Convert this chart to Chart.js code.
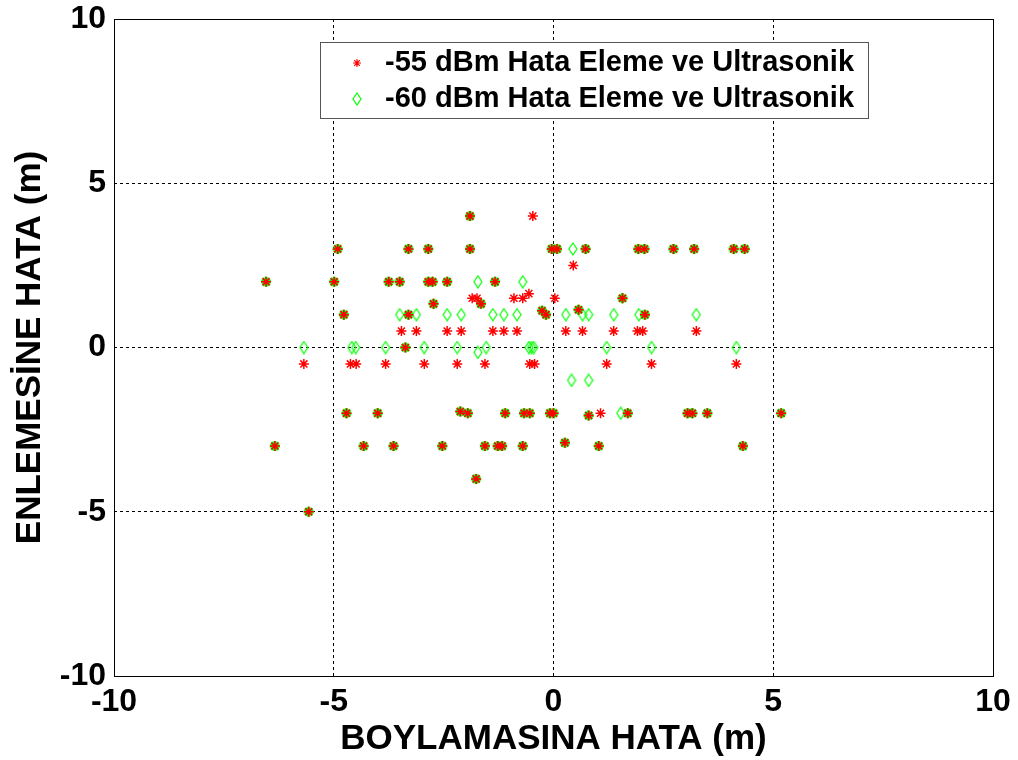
<!DOCTYPE html>
<html>
<head>
<meta charset="utf-8">
<script src="https://cdn.jsdelivr.net/npm/chart.js@4.4.1/dist/chart.umd.min.js"></script>
<style>
  body { margin: 0; background: #fff; }
  canvas { display: block; }
</style>
</head>
<body>
<canvas id="errChart" width="1018" height="760"></canvas>
<script>
// points where both runs landed on the same spot
const bothX = [-1.90,
  -4.91, -3.30, -2.85, -1.90, -0.04, 0.08, 0.73, 1.93, 2.07, 2.73, 3.20, 4.10, 4.35,
  -6.54, -4.99, -3.75, -3.50, -2.85, -2.75, -2.42, -1.33,
  -2.73, -1.65, 1.57, -0.26, 0.57,
  -4.77, -3.30, -0.17, 2.08,
  -3.37,
  -4.71, -4.00, -2.12, -1.95, -1.10, -0.67, -0.54, -0.08, 0.00, 0.80, 1.69, 3.05, 3.16, 3.50, 5.18,
  0.26,
  -6.34, -4.32, -3.64, -2.53, -1.56, -1.27, -1.17, -0.70, 1.03, 4.31,
  -1.76, -5.57];
const bothY = [4,
  3, 3, 3, 3, 3, 3, 3, 3, 3, 3, 3, 3, 3,
  2, 2, 2, 2, 2, 2, 2, 2,
  1.33, 1.33, 1.5, 1.12, 1.15,
  1, 1, 1, 1,
  0,
  -2, -2, -1.95, -2, -2, -2, -2, -2, -2, -2.07, -2, -2, -2, -2, -2,
  -2.9,
  -3, -3, -3, -3, -3, -3, -3, -3, -3, -3,
  -4, -5];

// -55 dBm only
const only55X = [-0.47, 0.45,
  -1.85, -1.74, -0.90, -0.70, -0.56, 0.03,
  1.07,
  -3.46, -3.12, -2.42, -2.10, -1.38, -1.13, -0.83, 0.28, 0.66, 1.37, 1.91, 2.03, 3.25,
  -5.68, -4.62, -4.49, -3.82, -2.94, -2.19, -1.56, -0.54, -0.43, 1.21, 2.23, 4.16];
const only55Y = [4, 2.5,
  1.5, 1.5, 1.5, 1.5, 1.64, 1.5,
  -2,
  0.5, 0.5, 0.5, 0.5, 0.5, 0.5, 0.5, 0.5, 0.5, 0.5, 0.5, 0.5, 0.5,
  -0.5, -0.5, -0.5, -0.5, -0.5, -0.5, -0.5, -0.5, -0.5, -0.5, -0.5, -0.5];

// -60 dBm only
const only60X = [0.44, -1.72, -0.70,
  -3.50, -3.12, -2.42, -2.10, -1.38, -1.13, -0.83, 0.28, 0.66, 0.80, 1.37, 1.94, 3.25,
  -5.68, -4.59, -4.50, -3.82, -2.94, -2.19, -1.53, -0.56, -0.50, -0.45, 1.21, 2.23, 4.16,
  -1.72, 0.41, 0.80, 1.53];
const only60Y = [3, 2, 2,
  1, 1, 1, 1, 1, 1, 1, 1, 1, 1, 1, 1, 1,
  0, 0, 0, 0, 0, 0, 0, 0, 0, 0, 0, 0, 0,
  -0.15, -1, -1, -2];

const seriesNames = ["-55 dBm Hata Eleme ve Ultrasonik", "-60 dBm Hata Eleme ve Ultrasonik"];
const xTicks = [-10, -5, 0, 5, 10];
const yTicks = [-10, -5, 0, 5, 10];

const RED = "#ff0000";
const GREEN = "#00ff00";
const FONT = "'Liberation Sans', Arial, sans-serif";

function pts(xs, ys) {
  return xs.map((x, i) => ({ x: x, y: ys[i] }));
}

// tall matlab-style diamond
function makeDiamond(w, h, color) {
  const c = document.createElement("canvas");
  c.width = w + 2;
  c.height = h + 2;
  const g = c.getContext("2d");
  g.strokeStyle = color;
  g.lineWidth = 1.2;
  g.beginPath();
  g.moveTo(c.width / 2, 1);
  g.lineTo(c.width - 1, c.height / 2);
  g.lineTo(c.width / 2, c.height - 1);
  g.lineTo(1, c.height / 2);
  g.closePath();
  g.stroke();
  return c;
}
const diamond = makeDiamond(8, 12, GREEN);

const frameAndLegend = {
  id: "frameAndLegend",
  afterDatasetsDraw(chart) {
    const { ctx, chartArea: a } = chart;
    ctx.save();
    ctx.strokeStyle = "#000";
    ctx.lineWidth = 1;
    ctx.setLineDash([]);
    ctx.strokeRect(Math.round(a.left) + 0.5, Math.round(a.top) + 0.5,
      Math.round(a.right - a.left), Math.round(a.bottom - a.top));

    // legend box
    const bx = 320, by = 42, bw = 548, bh = 76;
    ctx.fillStyle = "#fff";
    ctx.fillRect(bx, by, bw, bh);
    ctx.strokeStyle = "#555";
    ctx.strokeRect(bx + 0.5, by + 0.5, bw, bh);

    ctx.font = "bold 29px " + FONT;
    ctx.fillStyle = "#000";
    ctx.textBaseline = "middle";
    ctx.textAlign = "left";
    const rows = [by + 21, by + 57];
    ctx.fillText(seriesNames[0], 385, rows[0]);
    ctx.fillText(seriesNames[1], 385, rows[1]);

    // star marker
    const sx = 357, sy = rows[0], r = 4;
    ctx.strokeStyle = RED;
    ctx.lineWidth = 1.2;
    ctx.beginPath();
    for (let k = 0; k < 4; k++) {
      const ang = k * Math.PI / 4;
      ctx.moveTo(sx - r * Math.cos(ang), sy - r * Math.sin(ang));
      ctx.lineTo(sx + r * Math.cos(ang), sy + r * Math.sin(ang));
    }
    ctx.stroke();
    ctx.drawImage(diamond, 357 - diamond.width / 2, rows[1] - diamond.height / 2);
    ctx.restore();
  }
};

new Chart(document.getElementById("errChart"), {
  type: "scatter",
  data: {
    datasets: [
      {
        label: "halo",
        data: pts(bothX, bothY),
        pointStyle: "star",
        radius: 5,
        borderColor: GREEN,
        backgroundColor: GREEN,
        borderWidth: 3,
        order: 3
      },
      {
        label: seriesNames[1],
        data: pts(only60X, only60Y),
        pointStyle: diamond,
        order: 2
      },
      {
        label: seriesNames[0],
        data: pts(bothX, bothY).concat(pts(only55X, only55Y)),
        pointStyle: "star",
        radius: 5,
        borderColor: RED,
        backgroundColor: RED,
        borderWidth: 1.5,
        order: 1
      }
    ]
  },
  options: {
    responsive: false,
    animation: false,
    events: [],
    layout: { padding: { left: 0, top: 19, right: 25, bottom: 0 } },
    plugins: { legend: { display: false }, tooltip: { enabled: false } },
    scales: {
      x: {
        type: "linear",
        min: -10,
        max: 10,
        afterBuildTicks: s => { s.ticks = xTicks.map(v => ({ value: v })); },
        afterFit: s => { s.height = 84; s.paddingLeft = 0; s.paddingRight = 0; },
        ticks: { color: "#000", font: { family: FONT, size: 32, weight: "bold" }, padding: 7, maxRotation: 0 },
        grid: { color: "#000", lineWidth: 1, drawTicks: false },
        border: { display: false, dash: [3, 3] },
        title: {
          display: true,
          text: "BOYLAMASINA HATA (m)",
          color: "#000",
          font: { family: FONT, size: 35, weight: "bold", lineHeight: 1 },
          padding: { top: 0, bottom: 3 }
        }
      },
      y: {
        type: "linear",
        min: -10,
        max: 10,
        afterBuildTicks: s => { s.ticks = yTicks.map(v => ({ value: v })); },
        afterFit: s => { s.width = 114; s.paddingTop = 0; s.paddingBottom = 0; },
        ticks: { color: "#000", font: { family: FONT, size: 32, weight: "bold" }, padding: 8 },
        grid: { color: "#000", lineWidth: 1, drawTicks: false },
        border: { display: false, dash: [3, 3] },
        title: {
          display: true,
          text: "ENLEMESİNE HATA (m)",
          color: "#000",
          font: { family: FONT, size: 35, weight: "bold", lineHeight: 1 },
          padding: { top: 13, bottom: 0 }
        }
      }
    }
  },
  plugins: [frameAndLegend]
});
</script>
</body>
</html>
